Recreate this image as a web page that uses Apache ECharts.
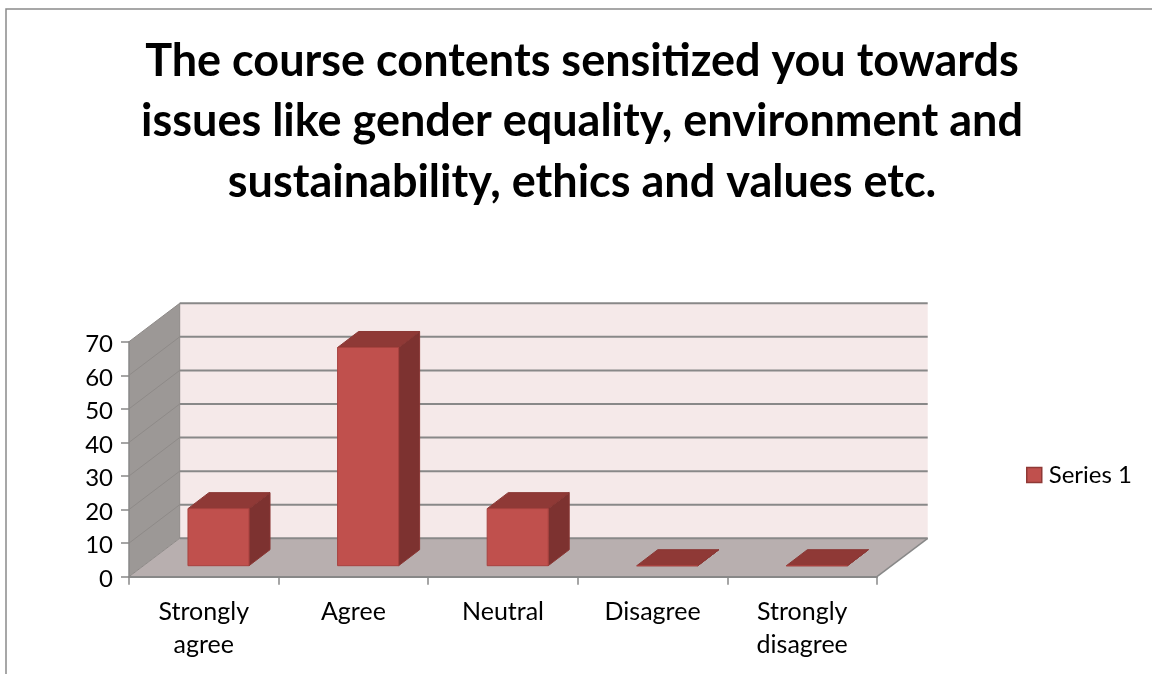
<!DOCTYPE html>
<html><head><meta charset="utf-8">
<style>html,body{margin:0;padding:0;background:#fff}#c{width:1152px;height:674px}</style>
<script src="https://cdn.jsdelivr.net/npm/echarts@6/dist/echarts.min.js"></script>
</head><body><div id="c"></div>
<script>
const titleText = 'The course contents sensitized you towards\nissues like gender equality, environment and\nsustainability, ethics and values etc.';
const categories = ['Strongly\nagree', 'Agree', 'Neutral', 'Disagree', 'Strongly\ndisagree'];
const seriesName = 'Series 1';
const values = [17, 65, 17, 0, 0];
const ticks = [0, 10, 20, 30, 40, 50, 60, 70];
const FONT = 'Lato';
const DX = 50.7, DY = -38.4;          // wall depth
const BDX = 21, BDY = -16;            // bar depth
const BOFF_X = 14.7, BOFF_Y = -11;    // bar offset from front plane
const GRID = '#888888';

function poly(points, fill, stroke, lw) {
  return { type: 'polygon', shape: { points }, style: { fill, stroke: stroke || null, lineWidth: lw || 0 } };
}
function line(x1, y1, x2, y2, w, c) {
  return { type: 'line', shape: { x1, y1, x2, y2 }, style: { stroke: c || GRID, lineWidth: w, fill: null } };
}
function renderWalls(params, api) {
  const band = api.size([1, 0])[0];
  const L = api.coord([0, 0])[0] - band / 2;
  const R = api.coord([categories.length - 1, 0])[0] + band / 2;
  const y0 = api.coord([0, ticks[0]])[1];
  const yT = api.coord([0, ticks[ticks.length - 1]])[1];
  const ch = [
    poly([[L + DX, yT + DY], [R + DX, yT + DY], [R + DX, y0 + DY], [L + DX, y0 + DY]], '#F5E9E9'),
    poly([[L, yT], [L + DX, yT + DY], [L + DX, y0 + DY], [L, y0]], '#9C9896'),
    poly([[L, y0], [L + DX, y0 + DY], [R + DX, y0 + DY], [R, y0]], '#B8AFAF')
  ];
  ticks.forEach(t => {
    const y = api.coord([0, t])[1];
    ch.push(line(L, y, L + DX, y + DY, 1, '#8E8A88'));
    ch.push(line(L + DX, y + DY, R + DX, y + DY, 2));
  });
  ch.push(line(L + DX, yT + DY, L + DX, y0 + DY, 1, '#8E8A88'));
  ch.push(line(R, y0, R + DX, y0 + DY, 1.5));
  return { type: 'group', children: ch };
}
function renderBar(params, api) {
  const c = api.coord([api.value(0), api.value(1)]);
  const b = api.coord([api.value(0), 0]);
  const w = api.size([1, 0])[0] * 0.408;
  const x0 = c[0] - w / 2 + BOFF_X, x1 = x0 + w;
  const yb = b[1] + BOFF_Y, yt = c[1] + BOFF_Y;
  const st = '#A8423F';
  return { type: 'group', children: [
    poly([[x1, yt], [x1 + BDX, yt + BDY], [x1 + BDX, yb + BDY], [x1, yb]], '#7D3230', '#8A3734', 1),
    poly([[x0, yt], [x0 + BDX, yt + BDY], [x1 + BDX, yt + BDY], [x1, yt]], '#8F3936', '#8A3734', 1),
    poly([[x0, yt], [x1, yt], [x1, yb], [x0, yb]], '#C0504D', st, 1)
  ]};
}
const chart = echarts.init(document.getElementById('c'), null, { renderer: 'canvas' });
chart.setOption({
  animation: false,
  backgroundColor: '#fff',
  title: {
    text: titleText, left: 577, top: 26, textAlign: 'center',
    textStyle: { fontFamily: FONT, fontWeight: 'bold', fontSize: 45, lineHeight: 60.5, color: '#000' }
  },
  legend: {
    data: [{ name: seriesName, icon: 'rect', itemStyle: { color: '#C0504D', borderColor: '#8F3936', borderWidth: 1.5 } }],
    left: 1021, top: 458, itemWidth: 15, itemHeight: 15, itemGap: 0,
    textStyle: { fontFamily: FONT, fontSize: 24, color: '#000', padding: [0, 0, 0, 2] }
  },
  grid: { left: 129, right: 275, top: 341.7, bottom: 97.3, containLabel: false },
  xAxis: {
    type: 'category', data: categories, z: 5,
    axisLine: { lineStyle: { color: GRID, width: 2 } },
    axisTick: { show: true, length: 8, lineStyle: { color: GRID, width: 1.5 } },
    axisLabel: { fontFamily: FONT, fontSize: 25, lineHeight: 33, color: '#000', margin: 19, interval: 0 },
    splitLine: { show: false }
  },
  yAxis: {
    type: 'value', min: 0, max: 70, interval: 10, z: 5,
    axisLine: { show: true, lineStyle: { color: GRID, width: 1.5 } },
    axisTick: { show: true, length: 8, lineStyle: { color: GRID, width: 1.5 } },
    axisLabel: { color: '#000', margin: 16, formatter: '{a|{value}}',
      rich: { a: { fontFamily: FONT, fontSize: 24, color: '#000', padding: [5, 0, 0, 0] } } },
    splitLine: { show: false }
  },
  series: [
    { type: 'custom', name: 'walls', z: 1, silent: true, clip: false, renderItem: renderWalls,
      encode: { x: 0, y: 1 }, data: [[0, 0]] },
    { type: 'custom', name: seriesName, z: 2, clip: false, renderItem: renderBar,
      itemStyle: { color: '#C0504D' }, encode: { x: 0, y: 1 },
      data: values.map((v, i) => [i, v]) }
  ],
  graphic: [{
    type: 'rect', silent: true, z: 10,
    shape: { x: 6, y: 9, width: 1300, height: 800 },
    style: { fill: 'none', stroke: '#8A8A8A', lineWidth: 1.5 }
  }]
});
</script></body></html>
